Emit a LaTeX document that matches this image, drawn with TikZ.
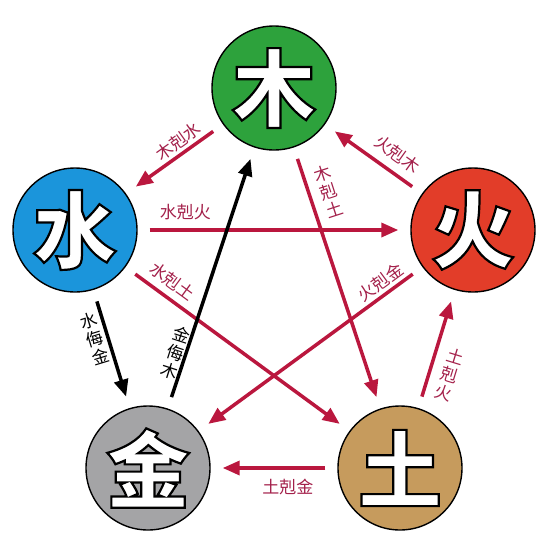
\documentclass[tikz,border=0pt]{standalone}
\usepackage{fontspec}
\usetikzlibrary{arrows.meta}
\newfontfamily\cjk{Noto Sans CJK SC}
\newfontfamily\cjkheavy{Noto Sans CJK SC Black}
\definecolor{mugreen}{HTML}{2DA23C}
\definecolor{shuiblue}{HTML}{1B95DB}
\definecolor{huored}{HTML}{E23D29}
\definecolor{jingray}{HTML}{A4A4A6}
\definecolor{tutan}{HTML}{C69B5D}
\definecolor{kered}{HTML}{BA173E}
\definecolor{labred}{HTML}{A3204A}
\newcommand\elemchar[1]{\special{pdf:literal direct 2 Tr 2.2 w 0 G}#1\special{pdf:literal direct 0 Tr}}
\tikzset{
	elem/.style={circle,draw=black,line width=1.4pt,minimum size=124pt,inner sep=0pt,text=white,font=\cjkheavy\fontsize{84}{84}\selectfont},
	ke/.style={draw=kered,line width=3.5pt,-{Triangle[length=17pt,width=14pt]},shorten >=12pt,shorten <=12pt},
	wu/.style={ke,draw=black},
	kelab/.style={text=labred,font=\cjk\fontsize{17}{19}\selectfont,inner sep=0pt,align=center},
	wulab/.style={kelab,text=black},
}
\begin{document}
\begin{tikzpicture}[x=1pt,y=-1pt]
	\useasboundingbox (0,0) rectangle (550,550);
	\node[elem,fill=mugreen] (mu) at (274,88) {\elemchar{木}};
	\node[elem,fill=shuiblue] (shui) at (75,230) {\elemchar{水}};
	\node[elem,fill=huored] (huo) at (473,230) {\elemchar{火}};
	\node[elem,fill=jingray] (jin) at (148,468) {\elemchar{金}};
	\node[elem,fill=tutan] (tu) at (400,468) {\elemchar{土}};
	% ke cycle
	\draw[ke] (mu)--node[kelab,sloped,pos=.39,yshift=12pt] (lmushui) {木剋水}(shui);
	\draw[ke] (huo)--node[kelab,sloped,pos=.36,yshift=18pt] (lhuomu) {火剋木}(mu);
	\draw[ke] (shui)--node[kelab,pos=.175,yshift=18pt] (lshuihuo) {水剋火}(huo);
	\draw[ke] (mu)--node[kelab,pos=.19,rotate=18,xshift=19pt] (lmutu) {木\\剋\\土}(tu);
	\draw[ke] (shui)--node[kelab,sloped,pos=.167,yshift=16pt] (lshuitu) {水剋土}(tu);
	\draw[ke] (huo)--node[kelab,sloped,pos=.154,yshift=12.5pt] (lhuojin) {火剋金}(jin);
	\draw[ke] (tu)--node[kelab,pos=.33,rotate=-17,xshift=20pt] (ltuhuo) {土\\剋\\火}(huo);
	\draw[ke] (tu)--node[kelab,pos=.39,yshift=-19pt] (ltujin) {土剋金}(jin);
	% wu
	\draw[wu] (shui)--node[wulab,pos=.38,rotate=17,xshift=-13pt] (lshuijin) {水\\侮\\金}(jin);
	\draw[wu] (jin)--node[wulab,pos=.2,rotate=-18,xshift=-10pt] (ljinmu) {金\\侮\\木}(mu);
\end{tikzpicture}
\end{document}
